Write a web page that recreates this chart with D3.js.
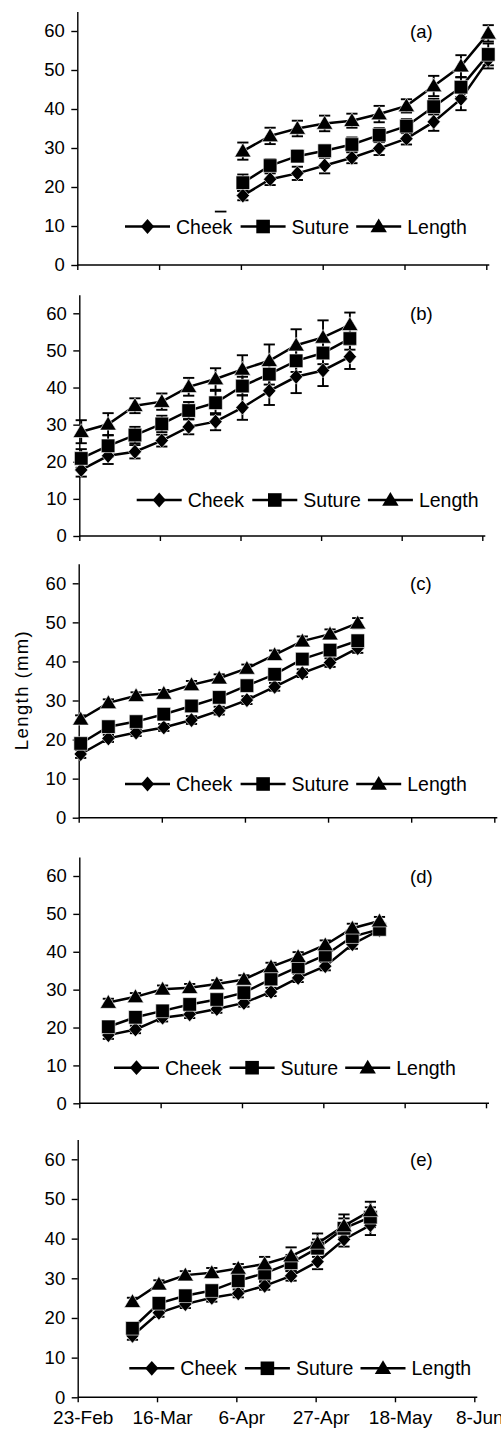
<!DOCTYPE html>
<html>
<head>
<meta charset="utf-8">
<script src="https://cdn.jsdelivr.net/npm/d3@7/dist/d3.min.js"></script>
<style>
  html, body { margin: 0; padding: 0; background: #fff; }
  svg { display: block; font-family: "Liberation Sans", Arial, sans-serif; }
</style>
</head>
<body>
<svg id="chart" width="501" height="1436"></svg>
<script>
// ---------- data (days after 23-Feb, lengths in mm) ----------
const seriesNames = ["Cheek", "Suture", "Length"];
const panelLabels = ["(a)", "(b)", "(c)", "(d)", "(e)"];
const xTickLabels = ["23-Feb", "16-Mar", "6-Apr", "27-Apr", "18-May", "8-Jun"];
const xTickDays = [0, 21, 42, 63, 84, 105];
const yTicks = [0, 10, 20, 30, 40, 50, 60];

const daysA = [42.5, 49.5, 56.5, 63.5, 70.5, 77.5, 84.5, 91.5, 98.5, 105.5];
const cheekA = [17.8, 22.0, 23.5, 25.5, 27.5, 29.9, 32.4, 36.7, 42.6, 52.6];
const sutureA = [21.1, 25.5, 27.9, 29.3, 30.9, 33.3, 35.6, 40.6, 45.6, 54.0];
const lengthA = [29.2, 33.1, 35.0, 36.3, 37.0, 38.7, 40.8, 45.9, 51.0, 59.4];
const cheekErrA = [1.2, 1.5, 1.7, 2.0, 1.4, 1.7, 1.5, 2.3, 2.9, 2.2];
const sutureErrA = [2.1, 1.6, 1.5, 1.5, 1.8, 1.8, 1.8, 2.0, 2.5, 2.8];
const lengthErrA = [2.2, 2.1, 2.0, 2.0, 1.8, 2.1, 1.7, 2.6, 2.8, 2.1];
const strayCapA = [{ day: 36.8, value: 13.7 }];

const daysB = [0.5, 7.5, 14.5, 21.5, 28.5, 35.5, 42.5, 49.5, 56.5, 63.5, 70.5];
const cheekB = [17.8, 21.6, 22.7, 25.7, 29.4, 30.8, 34.6, 39.1, 42.9, 44.6, 48.3];
const sutureB = [20.9, 24.3, 27.2, 30.2, 33.8, 35.9, 40.4, 43.6, 47.2, 49.3, 53.2];
const lengthB = [28.1, 30.1, 35.1, 36.2, 40.2, 42.3, 44.9, 47.2, 51.4, 53.5, 56.9];
const cheekErrB = [1.8, 2.2, 1.8, 1.6, 2.0, 2.3, 3.3, 3.8, 4.4, 4.2, 3.3];
const sutureErrB = [2.5, 2.9, 2.2, 2.2, 2.3, 3.2, 2.5, 2.8, 3.0, 3.0, 3.0];
const lengthErrB = [3.1, 3.0, 2.0, 2.2, 2.4, 2.9, 3.8, 4.4, 4.3, 4.6, 3.3];

const daysC = [0.5, 7.5, 14.5, 21.5, 28.5, 35.5, 42.5, 49.5, 56.5, 63.5, 70.5];
const cheekC = [16.3, 20.3, 21.8, 23.1, 25.0, 27.4, 30.1, 33.5, 37.0, 39.7, 43.4];
const sutureC = [19.0, 23.3, 24.6, 26.5, 28.6, 30.8, 33.8, 36.7, 40.6, 42.9, 45.3];
const lengthC = [25.2, 29.4, 31.2, 31.8, 34.0, 35.7, 38.2, 41.7, 45.2, 47.0, 49.8];
const cheekErrC = [1.0, 0.9, 0.9, 0.9, 1.0, 1.0, 1.0, 1.0, 1.0, 1.1, 1.2];
const sutureErrC = [1.0, 0.9, 0.9, 1.0, 1.0, 1.0, 1.0, 1.1, 1.1, 1.2, 1.2];
const lengthErrC = [1.0, 0.9, 0.9, 0.9, 1.0, 1.0, 1.0, 1.1, 1.2, 1.2, 1.3];

const daysD = [7.5, 14.5, 21.5, 28.5, 35.5, 42.5, 49.5, 56.5, 63.5, 70.5, 77.5];
const cheekD = [18.0, 19.5, 22.6, 23.5, 24.9, 26.5, 29.4, 33.1, 36.2, 42.0, 45.7];
const sutureD = [20.2, 22.7, 24.4, 26.1, 27.4, 29.2, 32.8, 36.0, 39.1, 44.0, 45.9];
const lengthD = [26.6, 28.1, 30.1, 30.5, 31.5, 32.7, 36.0, 38.7, 41.8, 46.2, 48.1];
const cheekErrD = [1.0, 1.0, 1.0, 1.0, 1.0, 1.0, 1.1, 1.1, 1.1, 1.2, 1.2];
const sutureErrD = [1.0, 1.0, 1.0, 1.0, 1.0, 1.1, 1.1, 1.2, 1.2, 1.2, 1.2];
const lengthErrD = [1.0, 1.0, 1.0, 1.0, 1.0, 1.1, 1.1, 1.2, 1.2, 1.2, 1.1];

const daysE = [14.5, 21.5, 28.5, 35.5, 42.5, 49.5, 56.5, 63.5, 70.5, 77.5];
const cheekE = [15.5, 21.3, 23.5, 25.1, 26.2, 28.1, 30.6, 34.2, 39.8, 43.4];
const sutureE = [17.4, 23.7, 25.6, 26.9, 29.4, 31.3, 33.9, 37.6, 42.6, 45.4];
const lengthE = [24.1, 28.5, 30.8, 31.4, 32.5, 33.6, 35.6, 38.8, 43.2, 47.0];
const cheekErrE = [1.0, 1.0, 1.0, 1.0, 1.0, 1.0, 1.2, 1.9, 1.8, 2.5];
const sutureErrE = [1.0, 1.0, 1.0, 1.2, 1.5, 1.8, 2.0, 2.2, 2.5, 2.5];
const lengthErrE = [1.0, 1.0, 1.0, 1.2, 1.1, 1.8, 2.2, 2.5, 2.9, 2.3];

// ---------- layout ----------
const layout = [
  { x0: 77.3, x1: 486.3, y0: 265.0, y60: 31.0, legX: 125.0, legY: 226.5 },
  { x0: 79.3, x1: 482.3, y0: 536.0, y60: 313.3, legX: 136.7, legY: 500.0 },
  { x0: 78.7, x1: 494.3, y0: 817.7, y60: 583.3, legX: 125.0, legY: 784.0 },
  { x0: 79.3, x1: 486.0, y0: 1103.3, y60: 876.0, legX: 114.0, legY: 1067.7 },
  { x0: 77.7, x1: 474.3, y0: 1397.3, y60: 1159.3, legX: 129.3, legY: 1368.3 }
];

const panels = [
  { days: daysA, vals: [cheekA, sutureA, lengthA], errs: [cheekErrA, sutureErrA, lengthErrA], stray: strayCapA },
  { days: daysB, vals: [cheekB, sutureB, lengthB], errs: [cheekErrB, sutureErrB, lengthErrB], stray: [] },
  { days: daysC, vals: [cheekC, sutureC, lengthC], errs: [cheekErrC, sutureErrC, lengthErrC], stray: [] },
  { days: daysD, vals: [cheekD, sutureD, lengthD], errs: [cheekErrD, sutureErrD, lengthErrD], stray: [] },
  { days: daysE, vals: [cheekE, sutureE, lengthE], errs: [cheekErrE, sutureErrE, lengthErrE], stray: [] }
];

const svg = d3.select("#chart");

function markerPath(kind) {
  if (kind === 0) return "M0,-7.4L6.6,0L0,7.4L-6.6,0Z";      // diamond
  if (kind === 1) return "M-6.8,-6.8H6.8V6.8H-6.8Z";        // square
  return "M0,-8L8.2,5.8H-8.2Z";                              // triangle
}

panels.forEach((p, pi) => {
  const L = layout[pi];
  const x = d3.scaleLinear().domain([0, 105]).range([L.x0, L.x1]);
  const yTop = L.y0 - (L.y0 - L.y60) * 65 / 60;
  const y = d3.scaleLinear().domain([0, 65]).range([L.y0, yTop]);
  const g = svg.append("g");

  // y axis
  const ya = g.append("g").attr("transform", `translate(${L.x0},0)`)
    .call(d3.axisLeft(y).tickValues(yTicks).tickSize(6).tickSizeOuter(0).tickPadding(6.5));
  ya.select(".domain").attr("stroke", "#000").attr("stroke-width", 1.4);
  ya.selectAll(".tick line").attr("stroke", "#000").attr("stroke-width", 1.4);
  ya.selectAll(".tick text").attr("font-size", 18.5).attr("fill", "#000")
    .attr("font-family", "'Liberation Sans', Arial, sans-serif");

  // x axis
  const xa = g.append("g").attr("transform", `translate(0,${L.y0})`)
    .call(d3.axisBottom(x).tickValues(xTickDays).tickSize(5).tickSizeOuter(0)
      .tickFormat((d, i) => pi === 4 ? xTickLabels[i] : ""));
  xa.select(".domain").attr("d", `M${L.x0},0H${L.x1 + 3}`).attr("stroke", "#000").attr("stroke-width", 1.4);
  xa.selectAll(".tick line").attr("stroke", "#000").attr("stroke-width", 1.4);
  xa.selectAll(".tick text").attr("font-size", 19).attr("fill", "#000").attr("dx", 5).attr("dy", "1.0em")
    .attr("font-family", "'Liberation Sans', Arial, sans-serif");

  // panel label
  g.append("text").attr("x", 410).attr("y", y(60) + 6.6)
    .attr("font-size", 18.5).attr("fill", "#000").text(panelLabels[pi]);

  // stray cap mark
  p.stray.forEach(s => {
    g.append("line").attr("x1", x(s.day) - 5.8).attr("x2", x(s.day) + 5.8)
      .attr("y1", y(s.value)).attr("y2", y(s.value))
      .attr("stroke", "#000").attr("stroke-width", 1.8);
  });

  const line = d3.line().x(d => x(d.day)).y(d => y(d.v));

  // error bars (all series first)
  p.vals.forEach((vals, si) => {
    const pts = vals.map((v, i) => ({ day: p.days[i], v, e: p.errs[si][i] }));
    const eb = g.append("g").attr("stroke", "#000").attr("stroke-width", 1.9);
    pts.forEach(d => {
      const cx = x(d.day);
      eb.append("line").attr("x1", cx).attr("x2", cx).attr("y1", y(d.v - d.e)).attr("y2", y(d.v + d.e));
      eb.append("line").attr("x1", cx - 5.6).attr("x2", cx + 5.6).attr("y1", y(d.v + d.e)).attr("y2", y(d.v + d.e));
      eb.append("line").attr("x1", cx - 5.6).attr("x2", cx + 5.6).attr("y1", y(d.v - d.e)).attr("y2", y(d.v - d.e));
    });
  });

  // lines and markers
  p.vals.forEach((vals, si) => {
    const pts = vals.map((v, i) => ({ day: p.days[i], v }));
    g.append("path").datum(pts).attr("d", line)
      .attr("fill", "none").attr("stroke", "#000").attr("stroke-width", 2.5);
    g.selectAll(null).data(pts).enter().append("path")
      .attr("d", markerPath(si))
      .attr("transform", d => `translate(${x(d.day)},${y(d.v)})`)
      .attr("fill", "#000").attr("stroke", "#fff").attr("stroke-width", 0.6);
  });

  // legend
  seriesNames.forEach((name, si) => {
    const lx = L.legX + si * 115.6;
    const lg = g.append("g");
    lg.append("line").attr("x1", lx).attr("x2", lx + 45).attr("y1", L.legY).attr("y2", L.legY)
      .attr("stroke", "#000").attr("stroke-width", 2.5);
    lg.append("path").attr("d", markerPath(si))
      .attr("transform", `translate(${lx + 22.5},${L.legY})`).attr("fill", "#000");
    lg.append("text").attr("x", lx + 51).attr("y", L.legY + 7)
      .attr("font-size", 19.5).attr("fill", "#000").text(name);
  });
});

// y axis title
svg.append("text")
  .attr("transform", "translate(28.3,690) rotate(-90)")
  .attr("text-anchor", "middle").attr("font-size", 18.5).attr("letter-spacing", 1.4)
  .attr("fill", "#000").text("Length (mm)");
</script>
</body>
</html>
